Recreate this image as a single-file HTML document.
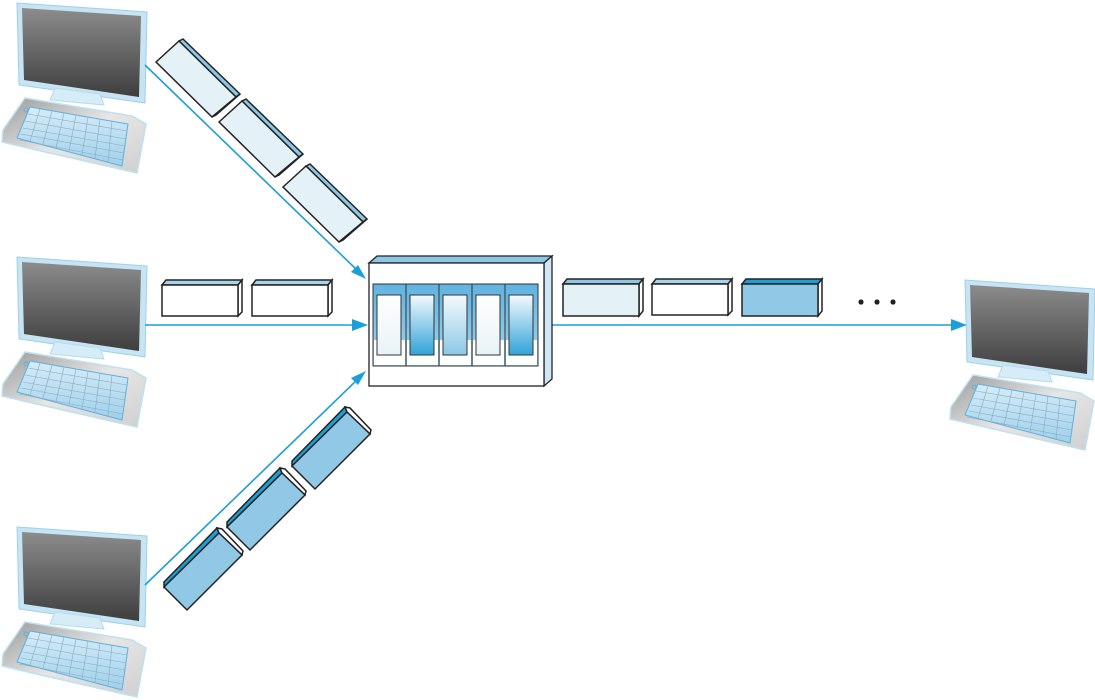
<!DOCTYPE html>
<html><head><meta charset="utf-8"><style>
html,body{margin:0;padding:0;background:#fff;width:1095px;height:700px;overflow:hidden}
svg{display:block}
</style></head><body>
<svg width="1095" height="700" viewBox="0 0 1095 700" xmlns="http://www.w3.org/2000/svg">
<defs>
<linearGradient id="scr" x1="0" y1="0" x2="0" y2="1"><stop offset="0" stop-color="#8c8c8c"/><stop offset="1" stop-color="#3e3e3e"/></linearGradient>
<linearGradient id="base" x1="0" y1="0" x2="1" y2="1"><stop offset="0" stop-color="#9a9a9a"/><stop offset="0.5" stop-color="#e6e6e6"/><stop offset="1" stop-color="#cfcfcf"/></linearGradient>
<linearGradient id="keys" x1="0" y1="0" x2="0" y2="1"><stop offset="0" stop-color="#d6ecf8"/><stop offset="1" stop-color="#9fd0ec"/></linearGradient>
<linearGradient id="slotA" x1="0" y1="0" x2="0" y2="1"><stop offset="0" stop-color="#ffffff"/><stop offset="1" stop-color="#e8f3f8"/></linearGradient>
<linearGradient id="slotB" x1="0" y1="0" x2="0" y2="1"><stop offset="0" stop-color="#f4fafd"/><stop offset="1" stop-color="#2fa3d8"/></linearGradient>
<linearGradient id="slotC" x1="0" y1="0" x2="0" y2="1"><stop offset="0" stop-color="#f4fafd"/><stop offset="1" stop-color="#8cc8e6"/></linearGradient>
<linearGradient id="band" x1="0" y1="0" x2="0" y2="1"><stop offset="0" stop-color="#5fb3e0"/><stop offset="1" stop-color="#a6d4ee"/></linearGradient>
<g id="pc">
  <polygon points="17,3 147,12 145,103 19,85" fill="#c6e4f3" stroke="#9fd0ea" stroke-width="1"/>
  <polygon points="22,8 141,16 139,97 24,80" fill="url(#scr)"/>
  <polygon points="55,88 100,94 104,105 50,100" fill="#d6ecf7" stroke="#b4dcef"/>
  <polygon points="25,98 132,116 146,124 137,173 2,142 3,130" fill="url(#base)" stroke="#bfe0ef" stroke-width="1.5"/>
  <polygon points="30,107 128,124 122,166 17,138" fill="url(#keys)" stroke="#5fb0dc" stroke-width="1"/>
  <g stroke="#8aa9bb" stroke-width="0.6">
    <line x1="28" y1="114" x2="127" y2="131"/><line x1="25" y1="121" x2="126" y2="139"/>
    <line x1="23" y1="128" x2="125" y2="146"/><line x1="21" y1="134" x2="124" y2="153"/>
    <line x1="19" y1="140" x2="123" y2="160"/>
    <line x1="40" y1="109" x2="30" y2="141"/><line x1="52" y1="111" x2="43" y2="144"/>
    <line x1="64" y1="113" x2="56" y2="148"/><line x1="76" y1="115" x2="69" y2="151"/>
    <line x1="88" y1="117" x2="82" y2="155"/><line x1="100" y1="119" x2="95" y2="158"/>
    <line x1="112" y1="121" x2="108" y2="162"/>
  </g>
  <circle cx="26" cy="110" r="2" fill="none" stroke="#5fb0dc"/>
</g>
<g id="pl"><!-- light horizontal packet -->
  <polygon points="0,5 4,0 80,0 76,5" fill="#a6d4ee" stroke="#222" stroke-width="1.5"/>
  <polygon points="76,5 80,0 80,32 76,36" fill="#fff" stroke="#222" stroke-width="1.5"/>
  <rect x="0" y="5" width="76" height="31" stroke="#222" stroke-width="1.5"/>
</g>
</defs>

<!-- computers -->
<use href="#pc" x="0" y="0"/>
<use href="#pc" x="0" y="254"/>
<use href="#pc" x="0" y="524"/>
<use href="#pc" x="948" y="277"/>

<!-- lines -->
<g stroke="#1a9fd6" stroke-width="1.6" fill="none">
<line x1="145" y1="65" x2="358" y2="271"/>
<line x1="145" y1="325" x2="356" y2="325"/>
<line x1="145" y1="585" x2="358" y2="379"/>
<line x1="552" y1="325" x2="955" y2="325"/>
</g>
<g fill="#1a9fd6">
<polygon points="366,279 351,272 358,265"/>
<polygon points="368,325 352,319 352,331"/>
<polygon points="366,371 358,385 351,378"/>
<polygon points="967,325 951,319 951,331"/>
</g>

<!-- top diagonal packets -->
<g id="dt">
<polygon points="179,41 183,39 240,94 236,97" fill="#8cc8e6" stroke="#222" stroke-width="1.5"/>
<polygon points="236,97 240,94 216,115 212,117" fill="#fff" stroke="#222" stroke-width="1.5"/>
<polygon points="156,62 179,41 236,97 212,117" fill="#e4f1f7" stroke="#222" stroke-width="1.5"/>
</g>
<use href="#dt" x="63" y="60"/>
<use href="#dt" x="127" y="125"/>

<!-- bottom diagonal packets -->
<g id="db">
<polygon points="164,587 164,582 217,528 219,533" fill="#1a9fd6" stroke="#222" stroke-width="1.5"/>
<polygon points="217,528 222,529 243,551 242,555 219,533" fill="#fff" stroke="#222" stroke-width="1.5"/>
<polygon points="164,587 219,533 242,555 187,610" fill="#90c8e6" stroke="#222" stroke-width="1.5"/>
</g>
<use href="#db" x="63" y="-60"/>
<use href="#db" x="128" y="-121"/>

<!-- horizontal packets -->
<use href="#pl" x="162" y="280" fill="#fff"/>
<use href="#pl" x="252" y="280" fill="#fff"/>
<g>
  <polygon points="563,284 567,279 643,279 639,284" fill="#8cc8e6" stroke="#222" stroke-width="1.5"/>
  <polygon points="639,284 643,279 643,311 639,316" fill="#fff" stroke="#222" stroke-width="1.5"/>
  <rect x="563" y="284" width="76" height="32" fill="#e4f1f7" stroke="#222" stroke-width="1.5"/>
</g>
<use href="#pl" x="652" y="279" fill="#fff"/>
<g>
  <polygon points="742,284 746,279 822,279 818,284" fill="#1a9fd6" stroke="#222" stroke-width="1.5"/>
  <polygon points="818,284 822,279 822,311 818,316" fill="#fff" stroke="#222" stroke-width="1.5"/>
  <rect x="742" y="284" width="76" height="32" fill="#90c8e6" stroke="#222" stroke-width="1.5"/>
</g>
<circle cx="861" cy="302" r="2.6" fill="#222"/><circle cx="877" cy="302" r="2.6" fill="#222"/><circle cx="893" cy="302" r="2.6" fill="#222"/>

<!-- switch -->
<polygon points="369,263 377,256 552,256 544,263" fill="#8cc8e6" stroke="#222" stroke-width="1.3"/>
<polygon points="544,263 552,256 552,379 544,386" fill="#cfe7f4" stroke="#222" stroke-width="1.3"/>
<rect x="369" y="263" width="175" height="123" fill="#fff" stroke="#222" stroke-width="1.3"/>
<g stroke="#333" stroke-width="1">
<rect x="373" y="284" width="33" height="82" fill="url(#band)"/>
<rect x="406" y="284" width="33" height="82" fill="url(#band)"/>
<rect x="439" y="284" width="33" height="82" fill="url(#band)"/>
<rect x="472" y="284" width="33" height="82" fill="url(#band)"/>
<rect x="505" y="284" width="33" height="82" fill="url(#band)"/>
</g>
<g fill="#fff" stroke="none">
<rect x="374" y="340" width="31" height="25"/><rect x="407" y="340" width="31" height="25"/>
<rect x="440" y="340" width="31" height="25"/><rect x="473" y="340" width="31" height="25"/>
<rect x="506" y="340" width="31" height="25"/>
</g>
<g stroke="#333" stroke-width="1">
<line x1="406" y1="284" x2="406" y2="366"/><line x1="439" y1="284" x2="439" y2="366"/>
<line x1="472" y1="284" x2="472" y2="366"/><line x1="505" y1="284" x2="505" y2="366"/>
<rect x="373" y="284" width="165" height="82" fill="none"/>
<rect x="377" y="295" width="24" height="60" fill="url(#slotA)"/>
<rect x="410" y="295" width="24" height="60" fill="url(#slotB)"/>
<rect x="443" y="295" width="24" height="60" fill="url(#slotC)"/>
<rect x="476" y="295" width="24" height="60" fill="url(#slotA)"/>
<rect x="509" y="295" width="24" height="60" fill="url(#slotB)"/>
</g>
</svg>
</body></html>
